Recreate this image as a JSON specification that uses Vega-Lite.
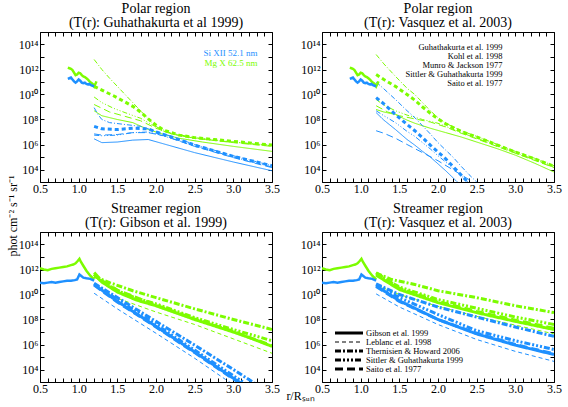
{
  "$schema": "https://vega.github.io/schema/vega-lite/v6.json",
  "background": "white",
  "padding": {"left": 5, "top": 1, "right": 5, "bottom": 5},
  "config": {
    "font": "Liberation Serif",
    "view": {"stroke": "black", "strokeWidth": 1},
    "axis": {"domain": false, "grid": false, "tickColor": "black", "tickSize": -4, "labelFont": "Liberation Serif", "labelFontSize": 12, "labelColor": "black", "labelPadding": 7, "labelOverlap": false, "labelFlush": false, "titleFont": "Liberation Serif", "titleFontWeight": "normal", "titleColor": "black", "titleFontSize": 12},
    "axisX": {"labelPadding": 5},
    "axisY": {"labelPadding": 6},
    "title": {"font": "Liberation Serif", "fontSize": 14, "fontWeight": "normal", "color": "black", "lineHeight": 14, "offset": -4, "frame": "group", "anchor": "middle"},
    "legend": {"padding": 0, "rowPadding": 0, "title": null, "labelFont": "Liberation Serif", "labelFontSize": 8.5, "labelColor": "black", "labelLimit": 0}
  },
  "datasets": {
    "obsPolar": [
      {"ion":"G","r":0.86,"I":1.41e12},{"ion":"G","r":0.88,"I":1.26e12},{"ion":"G","r":0.90,"I":1.12e12},{"ion":"G","r":0.92,"I":8.91e11},{"ion":"G","r":0.94,"I":5.62e11},{"ion":"G","r":0.96,"I":3.55e11},{"ion":"G","r":0.98,"I":3.98e11},{"ion":"G","r":1.00,"I":5.62e11},{"ion":"G","r":1.02,"I":5.01e11},{"ion":"G","r":1.04,"I":3.55e11},{"ion":"G","r":1.06,"I":2.82e11},{"ion":"G","r":1.08,"I":2.51e11},{"ion":"G","r":1.10,"I":2.00e11},{"ion":"G","r":1.12,"I":1.58e11},{"ion":"G","r":1.14,"I":1.12e11},{"ion":"G","r":1.16,"I":8.91e10},{"ion":"G","r":1.18,"I":7.08e10},{"ion":"G","r":1.20,"I":4.47e10},{"ion":"G","r":1.22,"I":7.94e10},{"ion":"G","r":1.23,"I":1.12e11},
      {"ion":"B","r":0.86,"I":1.78e11},{"ion":"B","r":0.88,"I":2.00e11},{"ion":"B","r":0.90,"I":2.24e11},{"ion":"B","r":0.92,"I":1.58e11},{"ion":"B","r":0.94,"I":1.12e11},{"ion":"B","r":0.96,"I":8.91e10},{"ion":"B","r":0.98,"I":1.12e11},{"ion":"B","r":1.00,"I":1.58e11},{"ion":"B","r":1.02,"I":1.26e11},{"ion":"B","r":1.04,"I":8.91e10},{"ion":"B","r":1.06,"I":7.94e10},{"ion":"B","r":1.08,"I":8.91e10},{"ion":"B","r":1.10,"I":7.08e10},{"ion":"B","r":1.12,"I":6.31e10},{"ion":"B","r":1.14,"I":7.08e10},{"ion":"B","r":1.16,"I":5.62e10},{"ion":"B","r":1.18,"I":5.01e10},{"ion":"B","r":1.20,"I":4.47e10}
    ],
    "obsStreamer": [
      {"ion":"G","r":0.50,"I":1.26e12},{"ion":"G","r":0.55,"I":1.00e12},{"ion":"G","r":0.60,"I":8.91e11},{"ion":"G","r":0.65,"I":1.12e12},{"ion":"G","r":0.70,"I":1.26e12},{"ion":"G","r":0.75,"I":1.41e12},{"ion":"G","r":0.80,"I":1.58e12},{"ion":"G","r":0.85,"I":1.78e12},{"ion":"G","r":0.90,"I":2.24e12},{"ion":"G","r":0.93,"I":2.51e12},{"ion":"G","r":0.96,"I":3.16e12},{"ion":"G","r":0.99,"I":5.01e12},{"ion":"G","r":1.01,"I":7.08e12},{"ion":"G","r":1.03,"I":3.98e12},{"ion":"G","r":1.06,"I":2.00e12},{"ion":"G","r":1.10,"I":7.94e11},{"ion":"G","r":1.15,"I":3.16e11},{"ion":"G","r":1.20,"I":1.58e11},
      {"ion":"B","r":0.50,"I":8.91e10},{"ion":"B","r":0.55,"I":7.94e10},{"ion":"B","r":0.60,"I":8.91e10},{"ion":"B","r":0.65,"I":1.00e11},{"ion":"B","r":0.70,"I":8.91e10},{"ion":"B","r":0.75,"I":1.00e11},{"ion":"B","r":0.80,"I":1.12e11},{"ion":"B","r":0.85,"I":1.26e11},{"ion":"B","r":0.90,"I":1.26e11},{"ion":"B","r":0.95,"I":1.41e11},{"ion":"B","r":0.98,"I":1.58e11},{"ion":"B","r":1.01,"I":3.98e11},{"ion":"B","r":1.03,"I":3.16e11},{"ion":"B","r":1.06,"I":2.24e11},{"ion":"B","r":1.10,"I":2.00e11},{"ion":"B","r":1.15,"I":1.78e11},{"ion":"B","r":1.20,"I":1.26e11}
    ],
    "models": [
      {"panel":"PG","ion":"G","model":"MJ","r":1.2,"I":6.31e12},{"panel":"PG","ion":"G","model":"MJ","r":1.3,"I":1.00e12},{"panel":"PG","ion":"G","model":"MJ","r":1.4,"I":2.00e11},{"panel":"PG","ion":"G","model":"MJ","r":1.5,"I":4.47e10},{"panel":"PG","ion":"G","model":"MJ","r":1.6,"I":1.00e10},{"panel":"PG","ion":"G","model":"MJ","r":1.7,"I":2.24e9},{"panel":"PG","ion":"G","model":"MJ","r":1.8,"I":5.01e8},{"panel":"PG","ion":"G","model":"MJ","r":1.9,"I":1.12e8},{"panel":"PG","ion":"G","model":"MJ","r":2.0,"I":2.82e7},{"panel":"PG","ion":"G","model":"MJ","r":2.1,"I":1.12e7},{"panel":"PG","ion":"G","model":"MJ","r":2.2,"I":7.08e6},{"panel":"PG","ion":"G","model":"MJ","r":2.4,"I":3.98e6},{"panel":"PG","ion":"G","model":"MJ","r":2.6,"I":2.82e6},{"panel":"PG","ion":"G","model":"MJ","r":2.8,"I":2.00e6},{"panel":"PG","ion":"G","model":"MJ","r":3.0,"I":1.58e6},{"panel":"PG","ion":"G","model":"MJ","r":3.25,"I":1.12e6},{"panel":"PG","ion":"G","model":"MJ","r":3.5,"I":8.91e5},
      {"panel":"PG","ion":"G","model":"K","r":1.2,"I":4.47e10},{"panel":"PG","ion":"G","model":"K","r":1.3,"I":2.24e10},{"panel":"PG","ion":"G","model":"K","r":1.45,"I":7.94e9},{"panel":"PG","ion":"G","model":"K","r":1.6,"I":2.51e9},{"panel":"PG","ion":"G","model":"K","r":1.7,"I":1.12e9},{"panel":"PG","ion":"G","model":"K","r":1.8,"I":3.98e8},{"panel":"PG","ion":"G","model":"K","r":1.9,"I":1.12e8},{"panel":"PG","ion":"G","model":"K","r":2.0,"I":3.55e7},{"panel":"PG","ion":"G","model":"K","r":2.1,"I":1.41e7},{"panel":"PG","ion":"G","model":"K","r":2.3,"I":5.62e6},{"panel":"PG","ion":"G","model":"K","r":2.5,"I":3.55e6},{"panel":"PG","ion":"G","model":"K","r":2.75,"I":2.51e6},{"panel":"PG","ion":"G","model":"K","r":3.0,"I":1.78e6},{"panel":"PG","ion":"G","model":"K","r":3.25,"I":1.26e6},{"panel":"PG","ion":"G","model":"K","r":3.5,"I":8.91e5},
      {"panel":"PG","ion":"G","model":"S","r":1.2,"I":6.31e9},{"panel":"PG","ion":"G","model":"S","r":1.3,"I":2.24e9},{"panel":"PG","ion":"G","model":"S","r":1.45,"I":7.94e8},{"panel":"PG","ion":"G","model":"S","r":1.6,"I":3.55e8},{"panel":"PG","ion":"G","model":"S","r":1.8,"I":1.26e8},{"panel":"PG","ion":"G","model":"S","r":2.0,"I":2.51e7},{"panel":"PG","ion":"G","model":"S","r":2.2,"I":7.94e6},{"panel":"PG","ion":"G","model":"S","r":2.5,"I":3.55e6},{"panel":"PG","ion":"G","model":"S","r":3.0,"I":1.58e6},{"panel":"PG","ion":"G","model":"S","r":3.5,"I":7.94e5},
      {"panel":"PG","ion":"G","model":"SA","r":1.2,"I":1.58e9},{"panel":"PG","ion":"G","model":"SA","r":1.4,"I":3.98e8},{"panel":"PG","ion":"G","model":"SA","r":1.6,"I":1.78e8},{"panel":"PG","ion":"G","model":"SA","r":1.8,"I":7.94e7},{"panel":"PG","ion":"G","model":"SA","r":2.0,"I":2.00e7},{"panel":"PG","ion":"G","model":"SA","r":2.2,"I":7.08e6},{"panel":"PG","ion":"G","model":"SA","r":2.5,"I":3.16e6},{"panel":"PG","ion":"G","model":"SA","r":3.0,"I":1.41e6},{"panel":"PG","ion":"G","model":"SA","r":3.5,"I":7.08e5},
      {"panel":"PG","ion":"G","model":"GU","r":1.2,"I":5.01e8},{"panel":"PG","ion":"G","model":"GU","r":1.3,"I":2.00e8},{"panel":"PG","ion":"G","model":"GU","r":1.5,"I":1.00e8},{"panel":"PG","ion":"G","model":"GU","r":1.7,"I":5.62e7},{"panel":"PG","ion":"G","model":"GU","r":1.9,"I":1.58e7},{"panel":"PG","ion":"G","model":"GU","r":2.1,"I":6.31e6},{"panel":"PG","ion":"G","model":"GU","r":2.3,"I":3.16e6},{"panel":"PG","ion":"G","model":"GU","r":2.6,"I":1.58e6},{"panel":"PG","ion":"G","model":"GU","r":3.0,"I":7.08e5},{"panel":"PG","ion":"G","model":"GU","r":3.5,"I":2.82e5},
      {"panel":"PG","ion":"B","model":"MJ","r":1.2,"I":8.91e8},{"panel":"PG","ion":"B","model":"MJ","r":1.25,"I":2.51e8},{"panel":"PG","ion":"B","model":"MJ","r":1.3,"I":1.00e8},{"panel":"PG","ion":"B","model":"MJ","r":1.4,"I":5.62e7},{"panel":"PG","ion":"B","model":"MJ","r":1.6,"I":3.98e7},{"panel":"PG","ion":"B","model":"MJ","r":1.8,"I":2.82e7},{"panel":"PG","ion":"B","model":"MJ","r":2.0,"I":1.12e7},{"panel":"PG","ion":"B","model":"MJ","r":2.2,"I":4.47e6},{"panel":"PG","ion":"B","model":"MJ","r":2.5,"I":1.00e6},{"panel":"PG","ion":"B","model":"MJ","r":3.0,"I":1.26e5},{"panel":"PG","ion":"B","model":"MJ","r":3.5,"I":2.00e4},
      {"panel":"PG","ion":"B","model":"K","r":1.2,"I":2.82e7},{"panel":"PG","ion":"B","model":"K","r":1.3,"I":1.78e7},{"panel":"PG","ion":"B","model":"K","r":1.5,"I":1.58e7},{"panel":"PG","ion":"B","model":"K","r":1.7,"I":2.00e7},{"panel":"PG","ion":"B","model":"K","r":1.9,"I":1.78e7},{"panel":"PG","ion":"B","model":"K","r":2.0,"I":1.00e7},{"panel":"PG","ion":"B","model":"K","r":2.2,"I":3.98e6},{"panel":"PG","ion":"B","model":"K","r":2.5,"I":8.91e5},{"panel":"PG","ion":"B","model":"K","r":3.0,"I":1.12e5},{"panel":"PG","ion":"B","model":"K","r":3.5,"I":2.00e4},
      {"panel":"PG","ion":"B","model":"S","r":1.2,"I":5.62e6},{"panel":"PG","ion":"B","model":"S","r":1.3,"I":5.01e6},{"panel":"PG","ion":"B","model":"S","r":1.5,"I":5.62e6},{"panel":"PG","ion":"B","model":"S","r":1.7,"I":8.91e6},{"panel":"PG","ion":"B","model":"S","r":1.9,"I":1.00e7},{"panel":"PG","ion":"B","model":"S","r":2.0,"I":7.08e6},{"panel":"PG","ion":"B","model":"S","r":2.2,"I":3.16e6},{"panel":"PG","ion":"B","model":"S","r":2.5,"I":7.94e5},{"panel":"PG","ion":"B","model":"S","r":3.0,"I":1.00e5},{"panel":"PG","ion":"B","model":"S","r":3.5,"I":1.58e4},
      {"panel":"PG","ion":"B","model":"SA","r":1.2,"I":7.08e6},{"panel":"PG","ion":"B","model":"SA","r":1.3,"I":5.62e6},{"panel":"PG","ion":"B","model":"SA","r":1.5,"I":6.31e6},{"panel":"PG","ion":"B","model":"SA","r":1.7,"I":8.91e6},{"panel":"PG","ion":"B","model":"SA","r":1.9,"I":8.91e6},{"panel":"PG","ion":"B","model":"SA","r":2.1,"I":5.01e6},{"panel":"PG","ion":"B","model":"SA","r":2.5,"I":7.08e5},{"panel":"PG","ion":"B","model":"SA","r":3.0,"I":8.91e4},{"panel":"PG","ion":"B","model":"SA","r":3.5,"I":1.41e4},
      {"panel":"PG","ion":"B","model":"GU","r":1.2,"I":2.82e6},{"panel":"PG","ion":"B","model":"GU","r":1.3,"I":1.41e6},{"panel":"PG","ion":"B","model":"GU","r":1.5,"I":1.58e6},{"panel":"PG","ion":"B","model":"GU","r":1.7,"I":2.24e6},{"panel":"PG","ion":"B","model":"GU","r":1.9,"I":2.51e6},{"panel":"PG","ion":"B","model":"GU","r":2.1,"I":1.12e6},{"panel":"PG","ion":"B","model":"GU","r":2.5,"I":2.24e5},{"panel":"PG","ion":"B","model":"GU","r":3.0,"I":3.98e4},{"panel":"PG","ion":"B","model":"GU","r":3.5,"I":7.94e3},

      {"panel":"PV","ion":"G","model":"MJ","r":1.2,"I":1.58e13},{"panel":"PV","ion":"G","model":"MJ","r":1.3,"I":2.82e12},{"panel":"PV","ion":"G","model":"MJ","r":1.45,"I":2.82e11},{"panel":"PV","ion":"G","model":"MJ","r":1.6,"I":3.16e10},{"panel":"PV","ion":"G","model":"MJ","r":1.7,"I":1.00e10},{"panel":"PV","ion":"G","model":"MJ","r":1.8,"I":2.24e9},{"panel":"PV","ion":"G","model":"MJ","r":1.9,"I":5.01e8},{"panel":"PV","ion":"G","model":"MJ","r":2.0,"I":1.41e8},{"panel":"PV","ion":"G","model":"MJ","r":2.1,"I":5.01e7},{"panel":"PV","ion":"G","model":"MJ","r":2.3,"I":1.26e7},{"panel":"PV","ion":"G","model":"MJ","r":2.5,"I":4.47e6},{"panel":"PV","ion":"G","model":"MJ","r":2.75,"I":1.12e6},{"panel":"PV","ion":"G","model":"MJ","r":3.0,"I":2.82e5},{"panel":"PV","ion":"G","model":"MJ","r":3.25,"I":7.94e4},{"panel":"PV","ion":"G","model":"MJ","r":3.5,"I":2.00e4},
      {"panel":"PV","ion":"G","model":"K","r":1.2,"I":3.98e11},{"panel":"PV","ion":"G","model":"K","r":1.3,"I":1.58e11},{"panel":"PV","ion":"G","model":"K","r":1.45,"I":4.47e10},{"panel":"PV","ion":"G","model":"K","r":1.6,"I":1.00e10},{"panel":"PV","ion":"G","model":"K","r":1.7,"I":3.55e9},{"panel":"PV","ion":"G","model":"K","r":1.8,"I":1.00e9},{"panel":"PV","ion":"G","model":"K","r":1.9,"I":3.16e8},{"panel":"PV","ion":"G","model":"K","r":2.0,"I":1.12e8},{"panel":"PV","ion":"G","model":"K","r":2.1,"I":4.47e7},{"panel":"PV","ion":"G","model":"K","r":2.3,"I":1.12e7},{"panel":"PV","ion":"G","model":"K","r":2.5,"I":3.98e6},{"panel":"PV","ion":"G","model":"K","r":2.75,"I":1.00e6},{"panel":"PV","ion":"G","model":"K","r":3.0,"I":2.51e5},{"panel":"PV","ion":"G","model":"K","r":3.25,"I":7.08e4},{"panel":"PV","ion":"G","model":"K","r":3.5,"I":1.78e4},
      {"panel":"PV","ion":"G","model":"S","r":1.2,"I":3.98e9},{"panel":"PV","ion":"G","model":"S","r":1.3,"I":1.41e9},{"panel":"PV","ion":"G","model":"S","r":1.45,"I":5.01e8},{"panel":"PV","ion":"G","model":"S","r":1.6,"I":2.24e8},{"panel":"PV","ion":"G","model":"S","r":1.8,"I":1.00e8},{"panel":"PV","ion":"G","model":"S","r":2.0,"I":5.01e7},{"panel":"PV","ion":"G","model":"S","r":2.1,"I":2.82e7},{"panel":"PV","ion":"G","model":"S","r":2.3,"I":8.91e6},{"panel":"PV","ion":"G","model":"S","r":2.5,"I":3.16e6},{"panel":"PV","ion":"G","model":"S","r":2.75,"I":8.91e5},{"panel":"PV","ion":"G","model":"S","r":3.0,"I":2.24e5},{"panel":"PV","ion":"G","model":"S","r":3.25,"I":6.31e4},{"panel":"PV","ion":"G","model":"S","r":3.5,"I":1.58e4},
      {"panel":"PV","ion":"G","model":"SA","r":1.2,"I":1.26e9},{"panel":"PV","ion":"G","model":"SA","r":1.35,"I":3.98e8},{"panel":"PV","ion":"G","model":"SA","r":1.5,"I":2.00e8},{"panel":"PV","ion":"G","model":"SA","r":1.7,"I":1.12e8},{"panel":"PV","ion":"G","model":"SA","r":1.9,"I":6.31e7},{"panel":"PV","ion":"G","model":"SA","r":2.1,"I":2.51e7},{"panel":"PV","ion":"G","model":"SA","r":2.3,"I":7.94e6},{"panel":"PV","ion":"G","model":"SA","r":2.5,"I":2.82e6},{"panel":"PV","ion":"G","model":"SA","r":3.0,"I":2.00e5},{"panel":"PV","ion":"G","model":"SA","r":3.5,"I":1.41e4},
      {"panel":"PV","ion":"G","model":"GU","r":1.2,"I":6.31e8},{"panel":"PV","ion":"G","model":"GU","r":1.3,"I":3.98e8},{"panel":"PV","ion":"G","model":"GU","r":1.45,"I":2.51e8},{"panel":"PV","ion":"G","model":"GU","r":1.6,"I":8.91e7},{"panel":"PV","ion":"G","model":"GU","r":1.7,"I":5.01e7},{"panel":"PV","ion":"G","model":"GU","r":1.9,"I":2.00e7},{"panel":"PV","ion":"G","model":"GU","r":2.1,"I":8.91e6},{"panel":"PV","ion":"G","model":"GU","r":2.3,"I":3.98e6},{"panel":"PV","ion":"G","model":"GU","r":2.5,"I":1.58e6},{"panel":"PV","ion":"G","model":"GU","r":2.75,"I":5.01e5},{"panel":"PV","ion":"G","model":"GU","r":3.0,"I":1.41e5},{"panel":"PV","ion":"G","model":"GU","r":3.25,"I":3.16e4},{"panel":"PV","ion":"G","model":"GU","r":3.5,"I":6.31e3},
      {"panel":"PV","ion":"B","model":"MJ","r":1.2,"I":1.00e11},{"panel":"PV","ion":"B","model":"MJ","r":1.3,"I":2.82e10},{"panel":"PV","ion":"B","model":"MJ","r":1.45,"I":3.98e9},{"panel":"PV","ion":"B","model":"MJ","r":1.6,"I":5.01e8},{"panel":"PV","ion":"B","model":"MJ","r":1.7,"I":1.41e8},{"panel":"PV","ion":"B","model":"MJ","r":1.8,"I":3.16e7},{"panel":"PV","ion":"B","model":"MJ","r":1.9,"I":7.08e6},{"panel":"PV","ion":"B","model":"MJ","r":2.0,"I":1.41e6},{"panel":"PV","ion":"B","model":"MJ","r":2.1,"I":3.55e5},{"panel":"PV","ion":"B","model":"MJ","r":2.2,"I":8.91e4},{"panel":"PV","ion":"B","model":"MJ","r":2.3,"I":1.78e4},{"panel":"PV","ion":"B","model":"MJ","r":2.4,"I":3.98e3},{"panel":"PV","ion":"B","model":"MJ","r":2.5,"I":1.00e3},{"panel":"PV","ion":"B","model":"MJ","r":2.55,"I":5.01e2},
      {"panel":"PV","ion":"B","model":"K","r":1.2,"I":5.62e9},{"panel":"PV","ion":"B","model":"K","r":1.3,"I":1.78e9},{"panel":"PV","ion":"B","model":"K","r":1.45,"I":2.51e8},{"panel":"PV","ion":"B","model":"K","r":1.6,"I":3.98e7},{"panel":"PV","ion":"B","model":"K","r":1.7,"I":1.26e7},{"panel":"PV","ion":"B","model":"K","r":1.8,"I":3.55e6},{"panel":"PV","ion":"B","model":"K","r":1.9,"I":8.91e5},{"panel":"PV","ion":"B","model":"K","r":2.0,"I":2.51e5},{"panel":"PV","ion":"B","model":"K","r":2.1,"I":7.08e4},{"panel":"PV","ion":"B","model":"K","r":2.2,"I":1.58e4},{"panel":"PV","ion":"B","model":"K","r":2.3,"I":3.55e3},{"panel":"PV","ion":"B","model":"K","r":2.4,"I":7.94e2},
      {"panel":"PV","ion":"B","model":"S","r":1.2,"I":5.01e8},{"panel":"PV","ion":"B","model":"S","r":1.3,"I":2.00e8},{"panel":"PV","ion":"B","model":"S","r":1.45,"I":5.62e7},{"panel":"PV","ion":"B","model":"S","r":1.6,"I":1.12e7},{"panel":"PV","ion":"B","model":"S","r":1.7,"I":4.47e6},{"panel":"PV","ion":"B","model":"S","r":1.8,"I":1.41e6},{"panel":"PV","ion":"B","model":"S","r":1.9,"I":4.47e5},{"panel":"PV","ion":"B","model":"S","r":2.0,"I":1.26e5},{"panel":"PV","ion":"B","model":"S","r":2.1,"I":3.98e4},{"panel":"PV","ion":"B","model":"S","r":2.2,"I":1.12e4},{"panel":"PV","ion":"B","model":"S","r":2.3,"I":3.16e3},{"panel":"PV","ion":"B","model":"S","r":2.4,"I":7.94e2},
      {"panel":"PV","ion":"B","model":"SA","r":1.2,"I":1.26e7},{"panel":"PV","ion":"B","model":"SA","r":1.3,"I":7.94e6},{"panel":"PV","ion":"B","model":"SA","r":1.45,"I":3.16e6},{"panel":"PV","ion":"B","model":"SA","r":1.6,"I":1.00e6},{"panel":"PV","ion":"B","model":"SA","r":1.8,"I":2.24e5},{"panel":"PV","ion":"B","model":"SA","r":2.0,"I":5.01e4},{"panel":"PV","ion":"B","model":"SA","r":2.2,"I":8.91e3},{"panel":"PV","ion":"B","model":"SA","r":2.4,"I":1.58e3},{"panel":"PV","ion":"B","model":"SA","r":2.5,"I":6.31e2},
      {"panel":"PV","ion":"B","model":"GU","r":1.2,"I":3.55e8},{"panel":"PV","ion":"B","model":"GU","r":1.3,"I":8.91e7},{"panel":"PV","ion":"B","model":"GU","r":1.45,"I":1.58e7},{"panel":"PV","ion":"B","model":"GU","r":1.6,"I":2.51e6},{"panel":"PV","ion":"B","model":"GU","r":1.7,"I":8.91e5},{"panel":"PV","ion":"B","model":"GU","r":1.8,"I":2.82e5},{"panel":"PV","ion":"B","model":"GU","r":1.9,"I":1.00e5},{"panel":"PV","ion":"B","model":"GU","r":2.0,"I":2.82e4},{"panel":"PV","ion":"B","model":"GU","r":2.1,"I":7.94e3},{"panel":"PV","ion":"B","model":"GU","r":2.2,"I":2.00e3},{"panel":"PV","ion":"B","model":"GU","r":2.3,"I":5.01e2},

      {"panel":"SG","ion":"G","model":"T","r":1.2,"I":2.82e11},{"panel":"SG","ion":"G","model":"T","r":1.4,"I":8.91e10},{"panel":"SG","ion":"G","model":"T","r":1.7,"I":2.00e10},{"panel":"SG","ion":"G","model":"T","r":2.0,"I":5.62e9},{"panel":"SG","ion":"G","model":"T","r":2.5,"I":7.08e8},{"panel":"SG","ion":"G","model":"T","r":3.0,"I":1.00e8},{"panel":"SG","ion":"G","model":"T","r":3.5,"I":1.58e7},
      {"panel":"SG","ion":"G","model":"S","r":1.2,"I":3.98e11},{"panel":"SG","ion":"G","model":"S","r":1.3,"I":1.12e11},{"panel":"SG","ion":"G","model":"S","r":1.5,"I":2.00e10},{"panel":"SG","ion":"G","model":"S","r":1.75,"I":5.01e9},{"panel":"SG","ion":"G","model":"S","r":2.0,"I":1.78e9},{"panel":"SG","ion":"G","model":"S","r":2.5,"I":1.41e8},{"panel":"SG","ion":"G","model":"S","r":3.0,"I":1.58e7},{"panel":"SG","ion":"G","model":"S","r":3.5,"I":2.00e6},
      {"panel":"SG","ion":"G","model":"GI","r":1.2,"I":3.98e11},{"panel":"SG","ion":"G","model":"GI","r":1.3,"I":1.00e11},{"panel":"SG","ion":"G","model":"GI","r":1.5,"I":1.58e10},{"panel":"SG","ion":"G","model":"GI","r":1.75,"I":3.55e9},{"panel":"SG","ion":"G","model":"GI","r":2.0,"I":1.26e9},{"panel":"SG","ion":"G","model":"GI","r":2.5,"I":1.00e8},{"panel":"SG","ion":"G","model":"GI","r":3.0,"I":1.00e7},{"panel":"SG","ion":"G","model":"GI","r":3.25,"I":2.82e6},{"panel":"SG","ion":"G","model":"GI","r":3.5,"I":7.08e5},
      {"panel":"SG","ion":"G","model":"L","r":1.2,"I":6.31e10},{"panel":"SG","ion":"G","model":"L","r":1.5,"I":5.01e9},{"panel":"SG","ion":"G","model":"L","r":2.0,"I":3.98e8},{"panel":"SG","ion":"G","model":"L","r":2.5,"I":3.98e7},{"panel":"SG","ion":"G","model":"L","r":3.0,"I":2.82e6},{"panel":"SG","ion":"G","model":"L","r":3.5,"I":2.00e5},
      {"panel":"SG","ion":"G","model":"SA","r":1.2,"I":5.62e11},{"panel":"SG","ion":"G","model":"SA","r":1.3,"I":1.26e11},{"panel":"SG","ion":"G","model":"SA","r":1.5,"I":2.24e10},{"panel":"SG","ion":"G","model":"SA","r":2.0,"I":1.41e9},{"panel":"SG","ion":"G","model":"SA","r":2.5,"I":1.12e8},{"panel":"SG","ion":"G","model":"SA","r":3.0,"I":1.12e7},{"panel":"SG","ion":"G","model":"SA","r":3.5,"I":7.94e5},
      {"panel":"SG","ion":"B","model":"T","r":1.2,"I":7.94e10},{"panel":"SG","ion":"B","model":"T","r":1.5,"I":5.62e9},{"panel":"SG","ion":"B","model":"T","r":2.0,"I":7.08e7},{"panel":"SG","ion":"B","model":"T","r":2.5,"I":8.91e5},{"panel":"SG","ion":"B","model":"T","r":3.0,"I":1.00e4},{"panel":"SG","ion":"B","model":"T","r":3.3,"I":6.31e2},
      {"panel":"SG","ion":"B","model":"S","r":1.2,"I":7.08e10},{"panel":"SG","ion":"B","model":"S","r":1.5,"I":3.98e9},{"panel":"SG","ion":"B","model":"S","r":2.0,"I":3.98e7},{"panel":"SG","ion":"B","model":"S","r":2.5,"I":3.55e5},{"panel":"SG","ion":"B","model":"S","r":3.0,"I":3.16e3},{"panel":"SG","ion":"B","model":"S","r":3.2,"I":5.01e2},
      {"panel":"SG","ion":"B","model":"GI","r":1.2,"I":6.31e10},{"panel":"SG","ion":"B","model":"GI","r":1.5,"I":2.82e9},{"panel":"SG","ion":"B","model":"GI","r":2.0,"I":2.82e7},{"panel":"SG","ion":"B","model":"GI","r":2.5,"I":2.51e5},{"panel":"SG","ion":"B","model":"GI","r":3.0,"I":2.00e3},{"panel":"SG","ion":"B","model":"GI","r":3.1,"I":7.94e2},
      {"panel":"SG","ion":"B","model":"L","r":1.2,"I":1.26e10},{"panel":"SG","ion":"B","model":"L","r":1.5,"I":7.08e8},{"panel":"SG","ion":"B","model":"L","r":2.0,"I":7.94e6},{"panel":"SG","ion":"B","model":"L","r":2.5,"I":7.94e4},{"panel":"SG","ion":"B","model":"L","r":2.9,"I":1.58e3},{"panel":"SG","ion":"B","model":"L","r":3.0,"I":6.31e2},
      {"panel":"SG","ion":"B","model":"SA","r":1.2,"I":5.62e10},{"panel":"SG","ion":"B","model":"SA","r":1.5,"I":2.51e9},{"panel":"SG","ion":"B","model":"SA","r":2.0,"I":2.51e7},{"panel":"SG","ion":"B","model":"SA","r":2.5,"I":2.24e5},{"panel":"SG","ion":"B","model":"SA","r":3.0,"I":1.78e3},{"panel":"SG","ion":"B","model":"SA","r":3.1,"I":7.08e2},

      {"panel":"SV","ion":"G","model":"T","r":1.2,"I":5.01e11},{"panel":"SV","ion":"G","model":"T","r":1.4,"I":1.58e11},{"panel":"SV","ion":"G","model":"T","r":1.7,"I":6.31e10},{"panel":"SV","ion":"G","model":"T","r":2.0,"I":2.00e10},{"panel":"SV","ion":"G","model":"T","r":2.5,"I":5.62e9},{"panel":"SV","ion":"G","model":"T","r":3.0,"I":1.26e9},{"panel":"SV","ion":"G","model":"T","r":3.5,"I":3.55e8},
      {"panel":"SV","ion":"G","model":"S","r":1.2,"I":4.47e11},{"panel":"SV","ion":"G","model":"S","r":1.5,"I":3.98e10},{"panel":"SV","ion":"G","model":"S","r":2.0,"I":3.98e9},{"panel":"SV","ion":"G","model":"S","r":2.5,"I":7.94e8},{"panel":"SV","ion":"G","model":"S","r":3.0,"I":1.58e8},{"panel":"SV","ion":"G","model":"S","r":3.5,"I":3.98e7},
      {"panel":"SV","ion":"G","model":"GI","r":1.2,"I":3.55e11},{"panel":"SV","ion":"G","model":"GI","r":1.5,"I":2.51e10},{"panel":"SV","ion":"G","model":"GI","r":2.0,"I":2.24e9},{"panel":"SV","ion":"G","model":"GI","r":2.5,"I":3.55e8},{"panel":"SV","ion":"G","model":"GI","r":3.0,"I":7.08e7},{"panel":"SV","ion":"G","model":"GI","r":3.5,"I":1.58e7},
      {"panel":"SV","ion":"G","model":"L","r":1.2,"I":5.62e10},{"panel":"SV","ion":"G","model":"L","r":1.5,"I":1.00e10},{"panel":"SV","ion":"G","model":"L","r":2.0,"I":1.12e9},{"panel":"SV","ion":"G","model":"L","r":2.5,"I":1.78e8},{"panel":"SV","ion":"G","model":"L","r":3.0,"I":3.55e7},{"panel":"SV","ion":"G","model":"L","r":3.5,"I":7.08e6},
      {"panel":"SV","ion":"G","model":"SA","r":1.2,"I":5.62e11},{"panel":"SV","ion":"G","model":"SA","r":1.5,"I":3.16e10},{"panel":"SV","ion":"G","model":"SA","r":2.0,"I":2.82e9},{"panel":"SV","ion":"G","model":"SA","r":2.5,"I":4.47e8},{"panel":"SV","ion":"G","model":"SA","r":3.0,"I":8.91e7},{"panel":"SV","ion":"G","model":"SA","r":3.5,"I":2.00e7},
      {"panel":"SV","ion":"B","model":"T","r":1.2,"I":7.08e10},{"panel":"SV","ion":"B","model":"T","r":1.5,"I":1.00e10},{"panel":"SV","ion":"B","model":"T","r":2.0,"I":1.00e9},{"panel":"SV","ion":"B","model":"T","r":2.5,"I":1.58e8},{"panel":"SV","ion":"B","model":"T","r":3.0,"I":2.51e7},{"panel":"SV","ion":"B","model":"T","r":3.5,"I":4.47e6},
      {"panel":"SV","ion":"B","model":"S","r":1.2,"I":6.31e10},{"panel":"SV","ion":"B","model":"S","r":1.5,"I":5.62e9},{"panel":"SV","ion":"B","model":"S","r":2.0,"I":2.51e8},{"panel":"SV","ion":"B","model":"S","r":2.5,"I":1.26e7},{"panel":"SV","ion":"B","model":"S","r":3.0,"I":2.00e6},{"panel":"SV","ion":"B","model":"S","r":3.5,"I":3.98e5},
      {"panel":"SV","ion":"B","model":"GI","r":1.2,"I":5.01e10},{"panel":"SV","ion":"B","model":"GI","r":1.5,"I":3.16e9},{"panel":"SV","ion":"B","model":"GI","r":2.0,"I":1.00e8},{"panel":"SV","ion":"B","model":"GI","r":2.5,"I":7.08e6},{"panel":"SV","ion":"B","model":"GI","r":3.0,"I":8.91e5},{"panel":"SV","ion":"B","model":"GI","r":3.5,"I":1.58e5},
      {"panel":"SV","ion":"B","model":"L","r":1.2,"I":1.12e10},{"panel":"SV","ion":"B","model":"L","r":1.5,"I":1.00e9},{"panel":"SV","ion":"B","model":"L","r":2.0,"I":3.98e7},{"panel":"SV","ion":"B","model":"L","r":2.5,"I":2.51e6},{"panel":"SV","ion":"B","model":"L","r":3.0,"I":2.82e5},{"panel":"SV","ion":"B","model":"L","r":3.5,"I":4.47e4},
      {"panel":"SV","ion":"B","model":"SA","r":1.2,"I":4.47e10},{"panel":"SV","ion":"B","model":"SA","r":1.5,"I":2.82e9},{"panel":"SV","ion":"B","model":"SA","r":2.0,"I":1.00e8},{"panel":"SV","ion":"B","model":"SA","r":2.5,"I":7.94e6},{"panel":"SV","ion":"B","model":"SA","r":3.0,"I":1.00e6},{"panel":"SV","ion":"B","model":"SA","r":3.5,"I":1.78e5}
    ]
  },
  "columns": 2,
  "spacing": {"row": 50, "column": 50},
  "bounds": "flush",
  "resolve": {
    "scale": {"x": "independent", "y": "independent", "color": "independent", "strokeDash": "independent", "strokeWidth": "independent"},
    "legend": {"color": "independent", "strokeDash": "independent", "strokeWidth": "independent"},
    "axis": {"x": "independent", "y": "independent"}
  },
  "concat": [
    {
      "width": 232, "height": 150,
      "title": {"text": ["Polar region", "(T(r): Guhathakurta et al 1999)"]},
      "resolve": {"axis": {"x": "independent", "y": "independent"}},
      "layer": [
        {
          "data": {"name": "models"},
          "transform": [{"filter": "datum.panel == 'PG'"}],
          "mark": {"type": "line", "clip": true},
          "encoding": {
            "x": {"field": "r", "type": "quantitative", "scale": {"domain": [0.5, 3.5], "nice": false, "zero": false}, "axis": {"orient": "bottom", "title": null, "values": [0.5,0.6,0.7,0.8,0.9,1.0,1.1,1.2,1.3,1.4,1.5,1.6,1.7,1.8,1.9,2.0,2.1,2.2,2.3,2.4,2.5,2.6,2.7,2.8,2.9,3.0,3.1,3.2,3.3,3.4,3.5], "labelExpr": "abs(datum.value*2 - round(datum.value*2)) < 0.001 ? format(datum.value, '.1f') : ''"}},
            "y": {"field": "I", "type": "quantitative", "scale": {"type": "log", "domain": [1e3, 1e15], "nice": false}, "axis": {"orient": "left", "values": [1e3,1e4,1e5,1e6,1e7,1e8,1e9,1e10,1e11,1e12,1e13,1e14,1e15], "labelExpr": "datum.value == 1e4 ? '10⁴' : datum.value == 1e6 ? '10⁶' : datum.value == 1e8 ? '10⁸' : datum.value == 1e10 ? '10¹⁰' : datum.value == 1e12 ? '10¹²' : datum.value == 1e14 ? '10¹⁴' : ''", "title": "phot cm⁻² s⁻¹ sr⁻¹", "titleX": -28, "titleY": 183.5, "titleAngle": 270, "titleAlign": "center", "titleBaseline": "middle"}},
            "color": {"field": "ion", "type": "nominal", "scale": {"domain": ["B", "G"], "range": ["#1E90FF", "#7CFC00"]}, "legend": {"orient": "none", "legendX": 217.5, "legendY": 17, "symbolOpacity": 0, "symbolSize": 0, "symbolStrokeWidth": 0, "symbolType": "stroke", "labelAlign": "right", "labelOffset": -9, "clipHeight": 8.5, "labelFontSize": 9, "labelExpr": "datum.label == 'B' ? 'Si XII 52.1 nm' : 'Mg X 62.5 nm'", "encode": {"labels": {"update": {"fill": {"signal": "datum.value == 'B' ? '#1E90FF' : '#7CFC00'"}}}}}},
            "strokeDash": {"field": "model", "type": "nominal", "scale": {"domain": ["GU", "K", "MJ", "S", "SA"], "range": [[1,0],[4,3],[5,2,1,2],[5,2,1,2,1,2,1,2],[7,4]]}, "legend": null},
            "strokeWidth": {"field": "model", "type": "nominal", "scale": {"type": "ordinal", "domain": ["GU", "K", "MJ", "S", "SA"], "range": [1, 3, 1, 1, 1]}, "legend": null}
          }
        },
        {
          "data": {"name": "obsPolar"},
          "mark": {"type": "line", "strokeWidth": 2.5, "clip": true},
          "encoding": {
            "x": {"field": "r", "type": "quantitative", "axis": null},
            "y": {"field": "I", "type": "quantitative", "axis": null},
            "color": {"field": "ion", "type": "nominal", "legend": null}
          }
        },
        {
          "data": {"name": "obsPolar"},
          "mark": {"type": "point", "opacity": 0},
          "encoding": {
            "x": {"field": "r", "type": "quantitative", "axis": {"orient": "top", "labels": false, "title": null, "values": [0.5,0.6,0.7,0.8,0.9,1.0,1.1,1.2,1.3,1.4,1.5,1.6,1.7,1.8,1.9,2.0,2.1,2.2,2.3,2.4,2.5,2.6,2.7,2.8,2.9,3.0,3.1,3.2,3.3,3.4,3.5]}},
            "y": {"field": "I", "type": "quantitative", "axis": {"orient": "right", "labels": false, "title": null, "values": [1e3,1e4,1e5,1e6,1e7,1e8,1e9,1e10,1e11,1e12,1e13,1e14,1e15]}}
          }
        }
      ]
    },
    {
      "width": 232, "height": 150,
      "title": {"text": ["Polar region", "(T(r): Vasquez et al. 2003)"]},
      "resolve": {"axis": {"x": "independent", "y": "independent"}},
      "layer": [
        {
          "data": {"name": "models"},
          "transform": [{"filter": "datum.panel == 'PV'"}],
          "mark": {"type": "line", "clip": true},
          "encoding": {
            "x": {"field": "r", "type": "quantitative", "scale": {"domain": [0.5, 3.5], "nice": false, "zero": false}, "axis": {"orient": "bottom", "title": null, "values": [0.5,0.6,0.7,0.8,0.9,1.0,1.1,1.2,1.3,1.4,1.5,1.6,1.7,1.8,1.9,2.0,2.1,2.2,2.3,2.4,2.5,2.6,2.7,2.8,2.9,3.0,3.1,3.2,3.3,3.4,3.5], "labelExpr": "abs(datum.value*2 - round(datum.value*2)) < 0.001 ? format(datum.value, '.1f') : ''"}},
            "y": {"field": "I", "type": "quantitative", "scale": {"type": "log", "domain": [1e3, 1e15], "nice": false}, "axis": {"orient": "left", "title": null, "values": [1e3,1e4,1e5,1e6,1e7,1e8,1e9,1e10,1e11,1e12,1e13,1e14,1e15], "labelExpr": "datum.value == 1e4 ? '10⁴' : datum.value == 1e6 ? '10⁶' : datum.value == 1e8 ? '10⁸' : datum.value == 1e10 ? '10¹⁰' : datum.value == 1e12 ? '10¹²' : datum.value == 1e14 ? '10¹⁴' : ''"}},
            "color": {"field": "ion", "type": "nominal", "scale": {"domain": ["B", "G"], "range": ["#1E90FF", "#7CFC00"]}, "legend": null},
            "strokeDash": {"field": "model", "type": "nominal", "scale": {"domain": ["GU", "K", "MJ", "S", "SA"], "range": [[1,0],[4,3],[5,2,1,2],[5,2,1,2,1,2,1,2],[7,4]]}, "legend": {"orient": "none", "legendX": 185.5, "legendY": 10.5, "symbolType": "stroke", "symbolSize": 961, "symbolStrokeColor": "black", "labelAlign": "right", "labelOffset": -39, "clipHeight": 8.5, "labelExpr": "datum.label == 'GU' ? 'Guhathakurta et al. 1999' : datum.label == 'K' ? 'Kohl et al. 1998' : datum.label == 'MJ' ? 'Munro & Jackson 1977' : datum.label == 'S' ? 'Sittler & Guhathakurta 1999' : 'Saito et al. 1977'"}},
            "strokeWidth": {"field": "model", "type": "nominal", "scale": {"type": "ordinal", "domain": ["GU", "K", "MJ", "S", "SA"], "range": [1, 3, 1, 1, 1]}, "legend": {"orient": "none", "legendX": 185.5, "legendY": 10.5, "symbolType": "stroke", "symbolSize": 961, "symbolStrokeColor": "black", "labelAlign": "right", "labelOffset": -39, "clipHeight": 8.5, "labelExpr": "datum.label == 'GU' ? 'Guhathakurta et al. 1999' : datum.label == 'K' ? 'Kohl et al. 1998' : datum.label == 'MJ' ? 'Munro & Jackson 1977' : datum.label == 'S' ? 'Sittler & Guhathakurta 1999' : 'Saito et al. 1977'"}}
          }
        },
        {
          "data": {"name": "obsPolar"},
          "mark": {"type": "line", "strokeWidth": 2.5, "clip": true},
          "encoding": {
            "x": {"field": "r", "type": "quantitative", "axis": null},
            "y": {"field": "I", "type": "quantitative", "axis": null},
            "color": {"field": "ion", "type": "nominal", "legend": null}
          }
        },
        {
          "data": {"name": "obsPolar"},
          "mark": {"type": "point", "opacity": 0},
          "encoding": {
            "x": {"field": "r", "type": "quantitative", "axis": {"orient": "top", "labels": false, "title": null, "values": [0.5,0.6,0.7,0.8,0.9,1.0,1.1,1.2,1.3,1.4,1.5,1.6,1.7,1.8,1.9,2.0,2.1,2.2,2.3,2.4,2.5,2.6,2.7,2.8,2.9,3.0,3.1,3.2,3.3,3.4,3.5]}},
            "y": {"field": "I", "type": "quantitative", "axis": {"orient": "right", "labels": false, "title": null, "values": [1e3,1e4,1e5,1e6,1e7,1e8,1e9,1e10,1e11,1e12,1e13,1e14,1e15]}}
          }
        }
      ]
    },
    {
      "width": 232, "height": 150,
      "title": {"text": ["Streamer region", "(T(r): Gibson et al. 1999)"]},
      "resolve": {"axis": {"x": "independent", "y": "independent"}},
      "layer": [
        {
          "data": {"name": "models"},
          "transform": [{"filter": "datum.panel == 'SG'"}],
          "mark": {"type": "line", "clip": true},
          "encoding": {
            "x": {"field": "r", "type": "quantitative", "scale": {"domain": [0.5, 3.5], "nice": false, "zero": false}, "axis": {"orient": "bottom", "title": null, "values": [0.5,0.6,0.7,0.8,0.9,1.0,1.1,1.2,1.3,1.4,1.5,1.6,1.7,1.8,1.9,2.0,2.1,2.2,2.3,2.4,2.5,2.6,2.7,2.8,2.9,3.0,3.1,3.2,3.3,3.4,3.5], "labelExpr": "abs(datum.value*2 - round(datum.value*2)) < 0.001 ? format(datum.value, '.1f') : ''"}},
            "y": {"field": "I", "type": "quantitative", "scale": {"type": "log", "domain": [1e3, 1e15], "nice": false}, "axis": {"orient": "left", "title": null, "values": [1e3,1e4,1e5,1e6,1e7,1e8,1e9,1e10,1e11,1e12,1e13,1e14,1e15], "labelExpr": "datum.value == 1e4 ? '10⁴' : datum.value == 1e6 ? '10⁶' : datum.value == 1e8 ? '10⁸' : datum.value == 1e10 ? '10¹⁰' : datum.value == 1e12 ? '10¹²' : datum.value == 1e14 ? '10¹⁴' : ''"}},
            "color": {"field": "ion", "type": "nominal", "scale": {"domain": ["B", "G"], "range": ["#1E90FF", "#7CFC00"]}, "legend": null},
            "strokeDash": {"field": "model", "type": "nominal", "scale": {"domain": ["GI", "L", "T", "S", "SA"], "range": [[1,0],[4,3],[6,2,2,2],[6,2,2,2,2,2,2,2],[8,4]]}, "legend": null},
            "strokeWidth": {"field": "model", "type": "nominal", "scale": {"type": "ordinal", "domain": ["GI", "L", "T", "S", "SA"], "range": [3, 1, 3, 3, 3]}, "legend": null}
          }
        },
        {
          "data": {"name": "obsStreamer"},
          "mark": {"type": "line", "strokeWidth": 2.5, "clip": true},
          "encoding": {
            "x": {"field": "r", "type": "quantitative", "axis": null},
            "y": {"field": "I", "type": "quantitative", "axis": null},
            "color": {"field": "ion", "type": "nominal", "legend": null}
          }
        },
        {
          "data": {"name": "obsStreamer"},
          "mark": {"type": "point", "opacity": 0},
          "encoding": {
            "x": {"field": "r", "type": "quantitative", "axis": {"orient": "top", "labels": false, "title": null, "values": [0.5,0.6,0.7,0.8,0.9,1.0,1.1,1.2,1.3,1.4,1.5,1.6,1.7,1.8,1.9,2.0,2.1,2.2,2.3,2.4,2.5,2.6,2.7,2.8,2.9,3.0,3.1,3.2,3.3,3.4,3.5]}},
            "y": {"field": "I", "type": "quantitative", "axis": {"orient": "right", "labels": false, "title": null, "values": [1e3,1e4,1e5,1e6,1e7,1e8,1e9,1e10,1e11,1e12,1e13,1e14,1e15]}}
          }
        }
      ]
    },
    {
      "width": 232, "height": 150,
      "title": {"text": ["Streamer region", "(T(r): Vasquez et al. 2003)"]},
      "resolve": {"axis": {"x": "independent", "y": "independent"}},
      "layer": [
        {
          "data": {"name": "models"},
          "transform": [{"filter": "datum.panel == 'SV'"}],
          "mark": {"type": "line", "clip": true},
          "encoding": {
            "x": {"field": "r", "type": "quantitative", "scale": {"domain": [0.5, 3.5], "nice": false, "zero": false}, "axis": {"orient": "bottom", "values": [0.5,0.6,0.7,0.8,0.9,1.0,1.1,1.2,1.3,1.4,1.5,1.6,1.7,1.8,1.9,2.0,2.1,2.2,2.3,2.4,2.5,2.6,2.7,2.8,2.9,3.0,3.1,3.2,3.3,3.4,3.5], "labelExpr": "abs(datum.value*2 - round(datum.value*2)) < 0.001 ? format(datum.value, '.1f') : ''", "title": "r/Rₛᵤₙ", "titleX": -22, "titleY": 13, "titleAlign": "center", "titleBaseline": "middle", "titleAngle": 0}},
            "y": {"field": "I", "type": "quantitative", "scale": {"type": "log", "domain": [1e3, 1e15], "nice": false}, "axis": {"orient": "left", "title": null, "values": [1e3,1e4,1e5,1e6,1e7,1e8,1e9,1e10,1e11,1e12,1e13,1e14,1e15], "labelExpr": "datum.value == 1e4 ? '10⁴' : datum.value == 1e6 ? '10⁶' : datum.value == 1e8 ? '10⁸' : datum.value == 1e10 ? '10¹⁰' : datum.value == 1e12 ? '10¹²' : datum.value == 1e14 ? '10¹⁴' : ''"}},
            "color": {"field": "ion", "type": "nominal", "scale": {"domain": ["B", "G"], "range": ["#1E90FF", "#7CFC00"]}, "legend": null},
            "strokeDash": {"field": "model", "type": "nominal", "scale": {"domain": ["GI", "L", "T", "S", "SA"], "range": [[1,0],[4,3],[6,2,2,2],[6,2,2,2,2,2,2,2],[8,4]]}, "legend": {"orient": "none", "legendX": 11.5, "legendY": 98, "symbolType": "stroke", "symbolSize": 784, "symbolStrokeColor": "black", "labelOffset": 1.5, "clipHeight": 6, "rowPadding": 0, "labelExpr": "datum.label == 'GI' ? 'Gibson et al. 1999' : datum.label == 'L' ? 'Leblanc et al. 1998' : datum.label == 'T' ? 'Thernisien & Howard 2006' : datum.label == 'S' ? 'Sittler & Guhathakurta 1999' : 'Saito et al. 1977'"}},
            "strokeWidth": {"field": "model", "type": "nominal", "scale": {"type": "ordinal", "domain": ["GI", "L", "T", "S", "SA"], "range": [3, 1, 3, 3, 3]}, "legend": {"orient": "none", "legendX": 11.5, "legendY": 98, "symbolType": "stroke", "symbolSize": 784, "symbolStrokeColor": "black", "labelOffset": 1.5, "clipHeight": 6, "rowPadding": 0, "labelExpr": "datum.label == 'GI' ? 'Gibson et al. 1999' : datum.label == 'L' ? 'Leblanc et al. 1998' : datum.label == 'T' ? 'Thernisien & Howard 2006' : datum.label == 'S' ? 'Sittler & Guhathakurta 1999' : 'Saito et al. 1977'"}}
          }
        },
        {
          "data": {"name": "obsStreamer"},
          "mark": {"type": "line", "strokeWidth": 2.5, "clip": true},
          "encoding": {
            "x": {"field": "r", "type": "quantitative", "axis": null},
            "y": {"field": "I", "type": "quantitative", "axis": null},
            "color": {"field": "ion", "type": "nominal", "legend": null}
          }
        },
        {
          "data": {"name": "obsStreamer"},
          "mark": {"type": "point", "opacity": 0},
          "encoding": {
            "x": {"field": "r", "type": "quantitative", "axis": {"orient": "top", "labels": false, "title": null, "values": [0.5,0.6,0.7,0.8,0.9,1.0,1.1,1.2,1.3,1.4,1.5,1.6,1.7,1.8,1.9,2.0,2.1,2.2,2.3,2.4,2.5,2.6,2.7,2.8,2.9,3.0,3.1,3.2,3.3,3.4,3.5]}},
            "y": {"field": "I", "type": "quantitative", "axis": {"orient": "right", "labels": false, "title": null, "values": [1e3,1e4,1e5,1e6,1e7,1e8,1e9,1e10,1e11,1e12,1e13,1e14,1e15]}}
          }
        }
      ]
    }
  ]
}
